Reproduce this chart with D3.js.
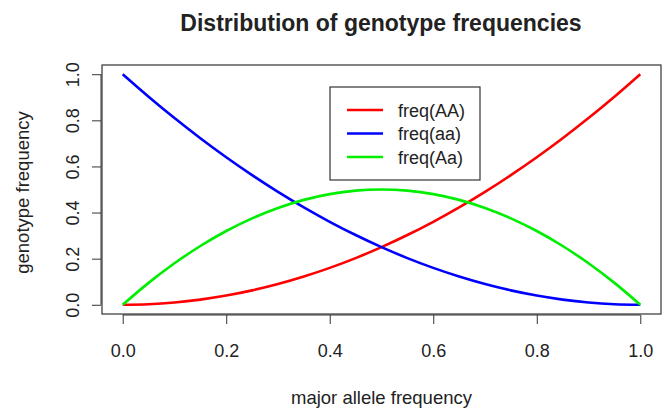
<!DOCTYPE html>
<html>
<head>
<meta charset="utf-8">
<title>Distribution of genotype frequencies</title>
<script src="https://cdn.jsdelivr.net/npm/d3@7"></script>
<style>
    body { margin: 0; background: #fff; }
    svg text { font-family: "Liberation Sans", Arial, sans-serif; fill: #222; }
    .axis path, .axis line { stroke: #333; stroke-width: 1; }
</style>
</head>
<body>
<div id="chart"></div>
<script>
// major allele frequency (x)
var alleleFreq = [0, 0.05, 0.1, 0.15, 0.2, 0.25, 0.3, 0.35, 0.4, 0.45, 0.5,
                  0.55, 0.6, 0.65, 0.7, 0.75, 0.8, 0.85, 0.9, 0.95, 1];
var freqAA = [0, 0.0025, 0.01, 0.0225, 0.04, 0.0625, 0.09, 0.1225, 0.16, 0.2025, 0.25,
              0.3025, 0.36, 0.4225, 0.49, 0.5625, 0.64, 0.7225, 0.81, 0.9025, 1];
var freqaa = [1, 0.9025, 0.81, 0.7225, 0.64, 0.5625, 0.49, 0.4225, 0.36, 0.3025, 0.25,
              0.2025, 0.16, 0.1225, 0.09, 0.0625, 0.04, 0.0225, 0.01, 0.0025, 0];
var freqAa = [0, 0.095, 0.18, 0.255, 0.32, 0.375, 0.42, 0.455, 0.48, 0.495, 0.5,
              0.495, 0.48, 0.455, 0.42, 0.375, 0.32, 0.255, 0.18, 0.095, 0];
var seriesNames = ["freq(AA)", "freq(aa)", "freq(Aa)"];
var seriesColors = ["#ff0000", "#0000ff", "#00ee00"];
var xTicks = [0, 0.2, 0.4, 0.6, 0.8, 1.0];
var yTicks = [0, 0.2, 0.4, 0.6, 0.8, 1.0];

var w = 667, h = 409;
var box = { left: 102, right: 661, top: 65, bottom: 314 };

var svg = d3.select("#chart").append("svg")
    .attr("width", w).attr("height", h);

// R style: data range padded by 4%
var xScale = d3.scaleLinear().domain([-0.04, 1.04]).range([box.left, box.right]);
var yScale = d3.scaleLinear().domain([-0.04, 1.04]).range([box.bottom, box.top]);

// title
svg.append("text")
    .attr("x", 381).attr("y", 31)
    .attr("text-anchor", "middle")
    .attr("font-size", "23px")
    .attr("font-weight", "bold")
    .attr("fill", "#111")
    .text("Distribution of genotype frequencies");

// lines
var line = d3.line()
    .x(function (d) { return xScale(d[0]); })
    .y(function (d) { return yScale(d[1]); })
    .curve(d3.curveMonotoneX);

[freqAA, freqaa, freqAa].forEach(function (vals, i) {
    svg.append("path")
        .datum(alleleFreq.map(function (p, j) { return [p, vals[j]]; }))
        .attr("d", line)
        .attr("fill", "none")
        .attr("stroke", seriesColors[i])
        .attr("stroke-width", 2.6);
});

// plot frame
svg.append("rect")
    .attr("x", box.left).attr("y", box.top)
    .attr("width", box.right - box.left).attr("height", box.bottom - box.top)
    .attr("fill", "none").attr("stroke", "#333").attr("stroke-width", 1.2);

// axes
var xAxis = d3.axisBottom(xScale).tickValues(xTicks).tickSize(9)
    .tickFormat(d3.format(".1f"));
var gx = svg.append("g").attr("class", "axis")
    .attr("transform", "translate(0," + (box.bottom + 1) + ")")
    .call(xAxis);
gx.select(".domain").attr("d", "M" + xScale(0) + ",0H" + xScale(1));
gx.selectAll("text")
    .attr("font-size", "18px").attr("fill", "#222")
    .attr("y", 42).attr("dy", "0");

var yAxis = d3.axisLeft(yScale).tickValues(yTicks).tickSize(9)
    .tickFormat(d3.format(".1f"));
var gy = svg.append("g").attr("class", "axis")
    .attr("transform", "translate(" + (box.left - 1) + ",0)")
    .call(yAxis);
gy.select(".domain").attr("d", "M0," + yScale(0) + "V" + yScale(1));
gy.selectAll("text")
    .attr("font-size", "18px").attr("fill", "#222")
    .attr("text-anchor", "middle")
    .attr("x", 0).attr("y", 0).attr("dy", "0")
    .attr("transform", "translate(-22,0) rotate(-90)");

// axis titles
svg.append("text")
    .attr("x", xScale(0.5)).attr("y", 404)
    .attr("text-anchor", "middle")
    .attr("font-size", "18.5px")
    .text("major allele frequency");

svg.append("text")
    .attr("transform", "translate(29," + (yScale(0.5) + 3) + ") rotate(-90)")
    .attr("text-anchor", "middle")
    .attr("font-size", "18.5px")
    .text("genotype frequency");

// legend
var legend = svg.append("g");
legend.append("rect")
    .attr("x", 330).attr("y", 87)
    .attr("width", 150).attr("height", 93)
    .attr("fill", "#fff").attr("stroke", "#333").attr("stroke-width", 1.2);
seriesNames.forEach(function (name, i) {
    var y = 110 + i * 23.5;
    legend.append("line")
        .attr("x1", 347).attr("x2", 383)
        .attr("y1", y).attr("y2", y)
        .attr("stroke", seriesColors[i]).attr("stroke-width", 2.6);
    legend.append("text")
        .attr("x", 398).attr("y", y + 6.5)
        .attr("font-size", "18px")
        .text(name);
});
</script>
</body>
</html>
